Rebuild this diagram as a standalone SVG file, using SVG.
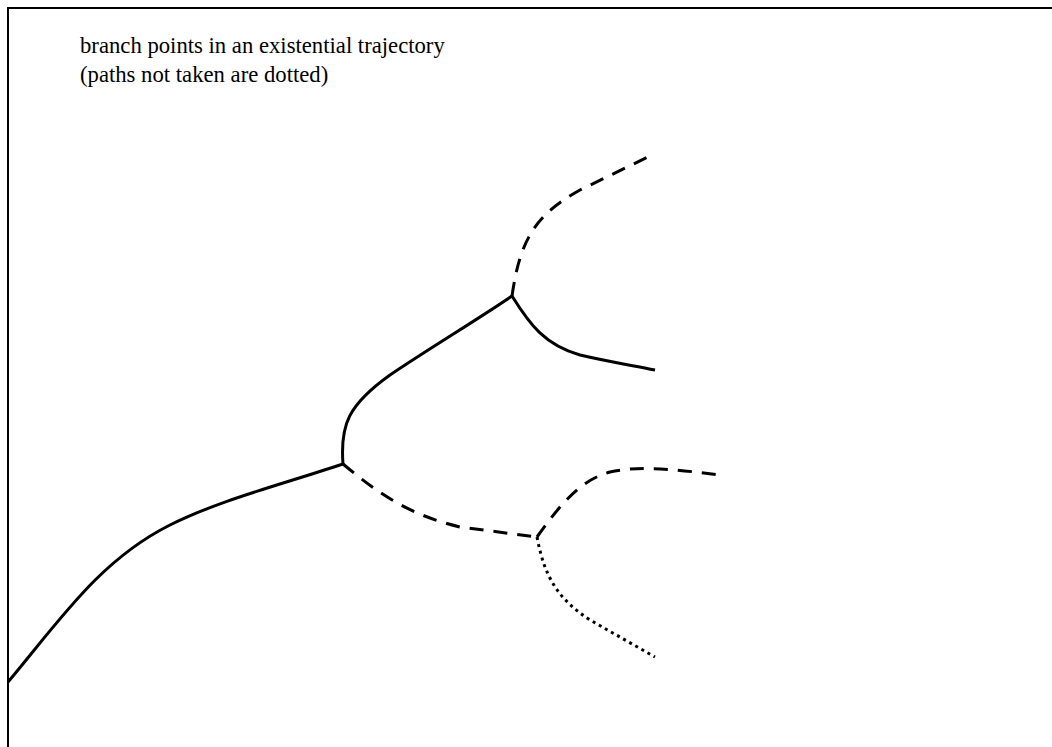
<svg xmlns="http://www.w3.org/2000/svg" width="1052" height="747" viewBox="0 0 1052 747">
<style>
.frame{fill:#fff;stroke:#000;stroke-width:2}
.t{font-family:"Liberation Serif","Times New Roman",serif;font-size:22.7px;fill:#000}
.c{fill:none;stroke:#000;stroke-width:3}
.dash{stroke-dasharray:14,10}
.dot{stroke-dasharray:3,4}
</style>
<rect class="frame" x="8" y="8" width="1060" height="760"/>
<g id="title">
<text class="t" x="80" y="53">branch points in an existential trajectory</text>
<text class="t" x="80" y="82">(paths not taken are dotted)</text>
</g>
<g id="connectors">
<path class="c" d="M8,682 C60,620 100,560 170,525 C220,500 280,485 343,464"/>
<path class="c" d="M343,464 C340,425 348,405 390,375 C430,348 480,318 512,296"/>
<path class="c" d="M512,296 C530,325 545,345 580,355 C610,362 630,365 655,370"/>
<path class="c dash" d="M512,296 C520,240 535,215 580,190 L652,155"/>
<path class="c dash" d="M343,464 C380,495 410,515 460,527 L537,537"/>
<path class="c dash" d="M537,537 C560,505 580,480 610,472 C640,465 680,470 720,475"/>
<path class="c dot" d="M537,537 C545,580 560,600 590,620 L655,657"/>
</g>
</svg>
